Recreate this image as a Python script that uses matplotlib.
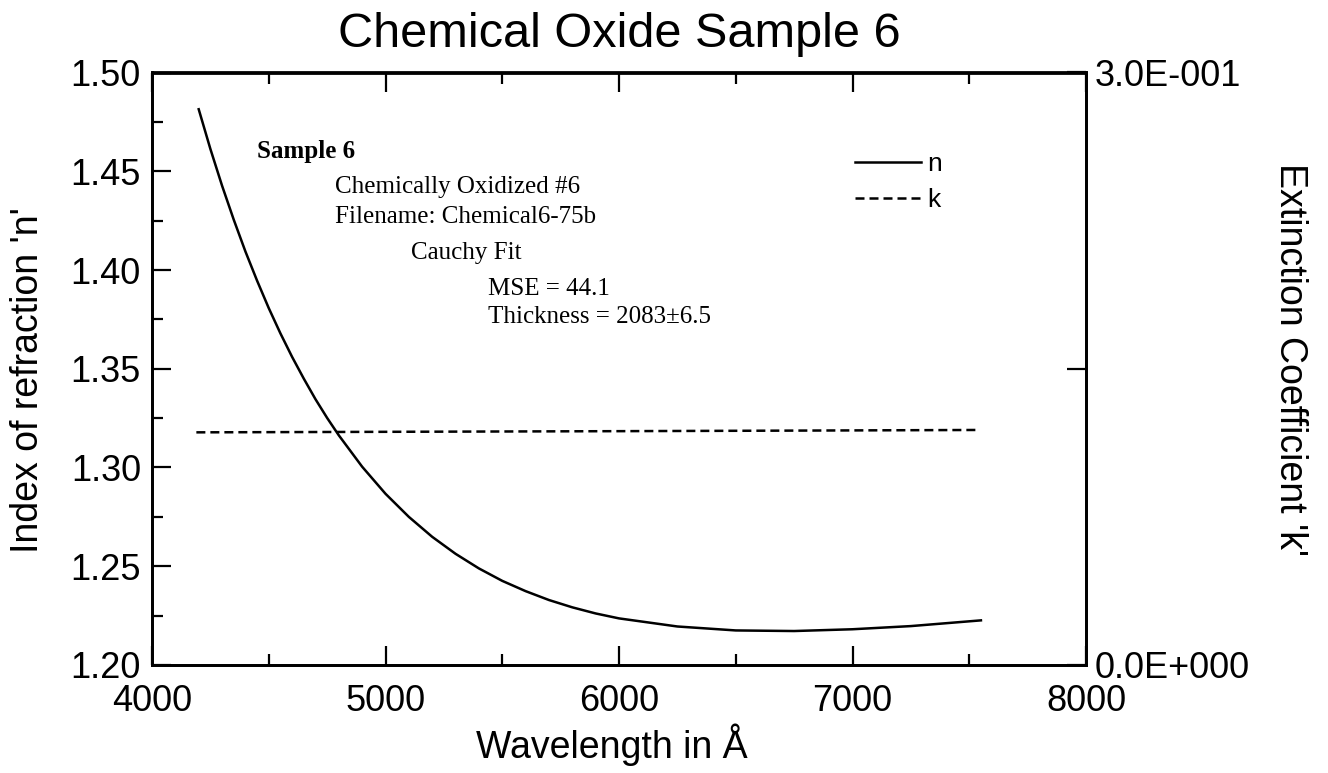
import matplotlib
matplotlib.use("Agg")
import matplotlib.pyplot as plt
from matplotlib.ticker import MultipleLocator, FixedLocator

# ---------------- data ----------------
wavelength_n = [4200, 4250, 4300, 4350, 4400, 4450, 4500, 4550, 4600, 4650,
                4700, 4750, 4800, 4900, 5000, 5100, 5200, 5300, 5400, 5500,
                5600, 5700, 5800, 5900, 6000, 6250, 6500, 6750, 7000, 7250, 7550]
n_values = [1.4814, 1.4613, 1.4427, 1.4255, 1.4094, 1.3946, 1.3807, 1.3679,
            1.3560, 1.3450, 1.3346, 1.3251, 1.3163, 1.3004, 1.2867, 1.2750,
            1.2649, 1.2563, 1.2489, 1.2426, 1.2374, 1.2329, 1.2292, 1.2261,
            1.2236, 1.2195, 1.2175, 1.2172, 1.2181, 1.2197, 1.2226]

wavelength_k = [4190, 4800, 5400, 6000, 6800, 7530]
k_values = [0.1178, 0.1180, 0.1182, 0.1184, 0.1187, 0.1190]

x_ticks = [4000, 5000, 6000, 7000, 8000]
n_ticks = [1.20, 1.25, 1.30, 1.35, 1.40, 1.45, 1.50]
n_tick_labels = ["1.20", "1.25", "1.30", "1.35", "1.40", "1.45", "1.50"]
k_ticks = [0.0, 0.15, 0.30]
k_tick_labels = ["0.0E+000", "", "3.0E-001"]

title = "Chemical Oxide Sample 6"
x_label = "Wavelength in Å"
n_label = "Index of refraction 'n'"
k_label = "Extinction Coefficient 'k'"

info_lines = ["Sample 6", "Chemically Oxidized #6", "Filename: Chemical6-75b",
              "Cauchy Fit", "MSE = 44.1", "Thickness = 2083±6.5"]
# -------------------------------------------------------------

sans = ["Liberation Sans", "DejaVu Sans"]
serif = ["Liberation Serif", "DejaVu Serif"]
plt.rcParams["font.family"] = sans

W, H = 1328, 773
fig = plt.figure(figsize=(W / 100, H / 100), dpi=100)
L, R, T, B = 152, 1086, 72.5, 665
ax = fig.add_axes([L / W, 1 - B / H, (R - L) / W, (B - T) / H])

lw = 1.8
dash = (0, (3.6, 2.0))
ax.plot(wavelength_n, n_values, color="black", lw=lw, label="n")
ax.plot([], [], color="black", lw=lw, ls=dash, label="k")

ax.set_xlim(4000, 8000)
ax.set_ylim(1.20, 1.50)
ax.xaxis.set_major_locator(FixedLocator(x_ticks))
ax.xaxis.set_minor_locator(MultipleLocator(500))
ax.yaxis.set_major_locator(FixedLocator(n_ticks))
ax.set_yticklabels(n_tick_labels)
ax.yaxis.set_minor_locator(MultipleLocator(0.025))

for s in ax.spines.values():
    s.set_linewidth(2.0)

ax.tick_params(axis="x", which="both", direction="in", top=True, labelsize=26, pad=14)
ax.tick_params(axis="y", which="both", direction="in", right=False, labelsize=26, pad=8)
ax.tick_params(which="major", length=14, width=1.6)
ax.tick_params(which="minor", length=8, width=1.6)

ax2 = ax.twinx()
ax2.plot(wavelength_k, k_values, color="black", lw=lw, ls=dash)
ax2.set_ylim(0, 0.30)
ax2.yaxis.set_major_locator(FixedLocator(k_ticks))
ax2.set_yticklabels(k_tick_labels)
ax2.tick_params(axis="y", direction="in", length=14, width=1.6, labelsize=26, pad=6)
for s in ax2.spines.values():
    s.set_linewidth(2.0)

ax.set_title(title, fontsize=35, y=(B - 43) / (B - T), va="center")
ax.set_xlabel(x_label, fontsize=27, va="center", ha="center")
ax.xaxis.set_label_coords((612 - L) / (R - L), (B - 745) / (B - T))
ax.set_ylabel(n_label, fontsize=27, va="center", ha="center")
ax.yaxis.set_label_coords((28 - L) / (R - L), (B - 380) / (B - T))
ax2.set_ylabel(k_label, fontsize=27, rotation=-90, va="center", ha="center")
ax2.yaxis.set_label_coords((1290 - L) / (R - L), (B - 360) / (B - T))

# annotation block
positions = [(257, 158), (335, 193), (335, 223), (411, 259), (488, 295), (488, 323)]
for i, (txt, (px, py)) in enumerate(zip(info_lines, positions)):
    ax.text((px - L) / (R - L), (B - py) / (B - T), txt, transform=ax.transAxes,
            family=serif, fontsize=18, fontweight="bold" if i == 0 else "normal",
            ha="left", va="baseline")

leg = ax.legend(loc="upper left", bbox_to_anchor=((855 - L) / (R - L), (B - 152) / (B - T)),
                frameon=False, fontsize=19, handlelength=2.5, handletextpad=0.25,
                labelspacing=0.45, borderpad=0, borderaxespad=0)

fig.savefig("out.png", dpi=100)
